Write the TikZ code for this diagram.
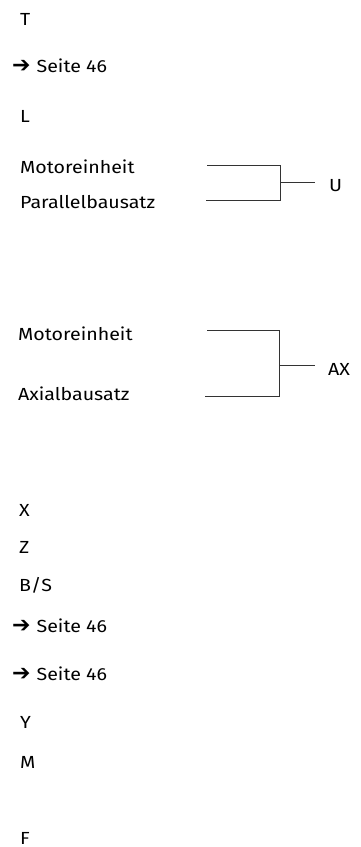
\documentclass[tikz,border=0pt]{standalone}
\usepackage{fontspec}
\setmainfont[FakeStretch=1.12]{Fira Sans}
\newfontfamily\symfont{DejaVu Sans}
\usepackage{tikz}
\usetikzlibrary{positioning}
\definecolor{linegray}{HTML}{333333}
\newcommand{\seite}{{\symfont\bfseries\fontsize{22}{22}\selectfont ➔}\hspace{6pt}Seite 46}

\begin{document}
\begin{tikzpicture}[
  x=1pt, y=-1pt,
  label/.style={anchor=base west, inner sep=0pt, font=\fontsize{17.5}{20}\selectfont},
  ref/.style={anchor=base west, inner sep=0pt, font=\fontsize{17.5}{20}\selectfont},
  bracket/.style={draw=linegray, line width=0.6pt}
]
\useasboundingbox (0,0) rectangle (361,847);

\node[label] (t) at (20,25) {T};
\node[ref] (ref1) at (12,72) {\seite};
\node[label] (l) at (20,122) {L};

% parallel
\node[label] (motor1) at (20,173) {Motoreinheit};
\node[label] (par) at (20,208) {Parallelbausatz};
\node[label] (u) at (329,191.5) {U};
\coordinate (motor1end) at (207,165);
\coordinate (parend) at (206,200);
\coordinate (ujoin) at (280,182.5);

% axial
\node[label] (motor2) at (18,340) {Motoreinheit};
\node[label] (axial) at (18,400) {Axialbausatz};
\node[label] (ax) at (328,375.5) {AX};
\coordinate (motor2end) at (207,330);
\coordinate (axialend) at (205,396);
\coordinate (axjoin) at (279,365.5);

\node[label] (x) at (19,516) {X};
\node[label] (z) at (19,553) {Z};
\node[label] (bs) at (19,591) {B/S};
\node[ref] (ref2) at (12,632) {\seite};
\node[ref] (ref3) at (12,680) {\seite};
\node[label] (y) at (20,728) {Y};
\node[label] (m) at (20,768) {M};
\node[label] (f) at (20,844) {F};

\draw[bracket] (motor1end) -| (ujoin);
\draw[bracket] (parend) -| (ujoin);
\draw[bracket] (ujoin) -- ([xshift=-14pt]u.west |- ujoin);
\draw[bracket] (motor2end) -| (axjoin);
\draw[bracket] (axialend) -| (axjoin);
\draw[bracket] (axjoin) -- ([xshift=-13pt]ax.west |- axjoin);
\end{tikzpicture}
\end{document}
